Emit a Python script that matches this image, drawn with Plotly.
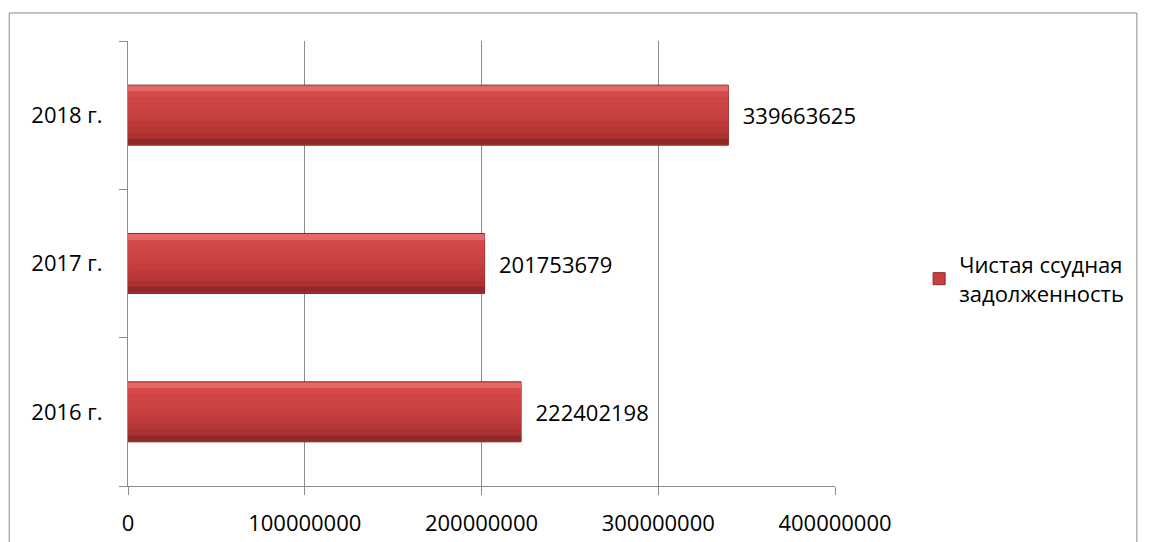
import plotly.graph_objects as go

categories = ["2016 г.", "2017 г.", "2018 г."]
values = [222402198, 201753679, 339663625]
series_name = "Чистая ссудная<br>задолженность"
x_ticks = [0, 100000000, 200000000, 300000000, 400000000]

BAR_W = 0.405
FONT = "Open Sans"
FS = 22
fig = go.Figure()

# main bar
fig.add_trace(go.Bar(
    y=categories, x=values, orientation="h", name=series_name,
    width=BAR_W,
    marker=dict(color="#C8403F", line=dict(color="#8A2828", width=1)),
    text=[str(v) for v in values], texttemplate="  %{text}",
    textposition="outside", cliponaxis=False, constraintext="none",
    textfont=dict(family=FONT, size=FS, color="#000000"),
    showlegend=True,
))

# vertical gradient (bevel look) drawn as thin overlaid strips, top to bottom
grad_colors = ["#E46868", "#D44A4A", "#D04545", "#CD4342", "#C94140",
               "#C43E3D", "#BE3A3A", "#B63636", "#AC3131", "#8F2929"]
n = len(grad_colors)
strip = (BAR_W - 0.01) / n
for i, c in enumerate(grad_colors):
    top = BAR_W / 2 - 0.005 - i * strip
    fig.add_trace(go.Bar(
        y=categories, x=values, orientation="h", width=strip * 1.02,
        offset=top - strip,
        marker=dict(color=c, line=dict(width=0)),
        showlegend=False, hoverinfo="skip",
    ))

fig.update_layout(
    width=1142, height=534,
    margin=dict(l=120, r=315, t=33, b=56),
    paper_bgcolor="white", plot_bgcolor="white",
    barmode="overlay",
    font=dict(family=FONT, size=FS, color="#000000"),
    xaxis=dict(
        range=[0, 400000000], tickvals=x_ticks, ticktext=[str(v) for v in x_ticks],
        showgrid=True, gridcolor="#8C8C8C", gridwidth=1,
        showline=True, linecolor="#8C8C8C", linewidth=1,
        ticks="outside", ticklen=8, tickcolor="#8C8C8C",
        zeroline=False, ticklabelstandoff=10, automargin=False,
        tickfont=dict(family=FONT, size=FS),
    ),
    yaxis=dict(
        type="category", categoryorder="array", categoryarray=categories,
        showline=True, linecolor="#8C8C8C", linewidth=1,
        ticks="outside", ticklen=8, tickcolor="#8C8C8C", tickson="boundaries",
        showgrid=False, ticklabelstandoff=20, automargin=False,
        tickfont=dict(family=FONT, size=FS),
    ),
    legend=dict(
        x=1.119, y=0.465, xanchor="left", yanchor="middle",
        font=dict(family=FONT, size=FS), itemwidth=30,
        bgcolor="rgba(0,0,0,0)",
    ),
    shapes=[dict(
        type="rect", xref="paper", yref="paper",
        x0=-0.168, x1=1.427, y0=-0.14, y1=1.063,
        line=dict(color="#8C8C8C", width=1), fillcolor="rgba(0,0,0,0)", layer="below",
    )],
)

fig.write_html("out.html")
